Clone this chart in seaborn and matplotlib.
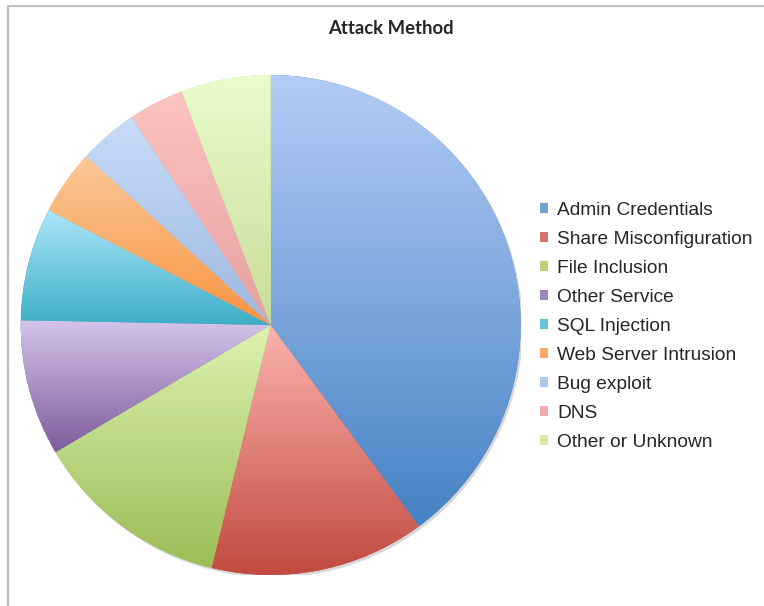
import numpy as np
import matplotlib
matplotlib.use("Agg")
import matplotlib.pyplot as plt
import matplotlib.colors as mcolors
from matplotlib.lines import Line2D
from matplotlib.patches import Patch, Circle
import seaborn as sns

# ---- data ----
labels = ["Admin Credentials", "Share Misconfiguration", "File Inclusion",
          "Other Service", "SQL Injection", "Web Server Intrusion",
          "Bug exploit", "DNS", "Other or Unknown"]
values = [39.9, 13.9, 12.7, 8.8, 7.3, 4.2, 3.8, 3.6, 5.8]
title = "Attack Method"

# ---- styles ----
top_colors = ["#b4ccf6", "#fbb4ae", "#dcf2b0", "#d4c4ea", "#ace6fa",
              "#fcc898", "#c8dcfa", "#fcc4c2", "#eafccc"]
bottom_colors = ["#4682c4", "#c24a40", "#9cbc56", "#7c5c9c", "#3caec6",
                 "#f79440", "#9cb8de", "#e4a09e", "#c8dc98"]

sns.set_theme(style="white")
plt.rcParams["font.family"] = ["Liberation Sans", "DejaVu Sans"]

W, H = 764, 606
fig = plt.figure(figsize=(W / 100, H / 100), dpi=100)
fig.patch.set_facecolor("white")

cx, cy, r = 270.7, 325, 250
ax = fig.add_axes([(cx - r) / W, (H - cy - r) / H, 2 * r / W, 2 * r / H])
ax.set_xlim(-1, 1)
ax.set_ylim(-1, 1)
ax.set_aspect("equal")
ax.axis("off")

# subtle shadow
ax.add_patch(Circle((0.008, -0.010), 1.0, facecolor="#d8d8d8", edgecolor="none", zorder=0))

wedges, _ = ax.pie(values, startangle=90, counterclock=False, radius=1.0,
                   colors=bottom_colors,
                   wedgeprops=dict(edgecolor="none", linewidth=0))
ax.set_xlim(-1, 1)
ax.set_ylim(-1, 1)

grad = np.linspace(0, 1, 256).reshape(-1, 1)
for w, ct, cb in zip(wedges, top_colors, bottom_colors):
    cmap = mcolors.LinearSegmentedColormap.from_list("g", [ct, cb])
    bb = w.get_path().get_extents(w.get_patch_transform())
    im = ax.imshow(grad, cmap=cmap, extent=[bb.x0, bb.x1, bb.y0, bb.y1],
                   origin="upper", aspect="auto", zorder=2, interpolation="bilinear")
    im.set_clip_path(w)
    w.set_zorder(1)
ax.set_xlim(-1, 1)
ax.set_ylim(-1, 1)

# legend
mid_colors = [mcolors.to_hex((np.array(mcolors.to_rgb(a)) * 0.4 + np.array(mcolors.to_rgb(b)) * 0.6))
              for a, b in zip(top_colors, bottom_colors)]
handles = [Patch(facecolor=c, edgecolor="none") for c in mid_colors]
fig.legend(handles, labels, loc="center left",
           bbox_to_anchor=(540 / W, 1 - 326.5 / H), frameon=False,
           fontsize=13.8, labelspacing=0.63, handlelength=0.42, handleheight=0.42,
           handletextpad=0.47, borderpad=0, borderaxespad=0)

fig.text(390.5 / W, 1 - 28.5 / H, title, ha="center", va="center",
         fontsize=13.3, fontweight="bold", family=["Lato", "DejaVu Sans"])

# chart frame (top and left edges visible)
fig.add_artist(Line2D([8 / W, 1], [1 - 5.5 / H, 1 - 5.5 / H], color="#c0c0c0", lw=1.6,
                      transform=fig.transFigure))
fig.add_artist(Line2D([8 / W, 8 / W], [0, 1 - 5.5 / H], color="#c0c0c0", lw=1.6,
                      transform=fig.transFigure))

fig.savefig("out.png", dpi=100, facecolor="white")
